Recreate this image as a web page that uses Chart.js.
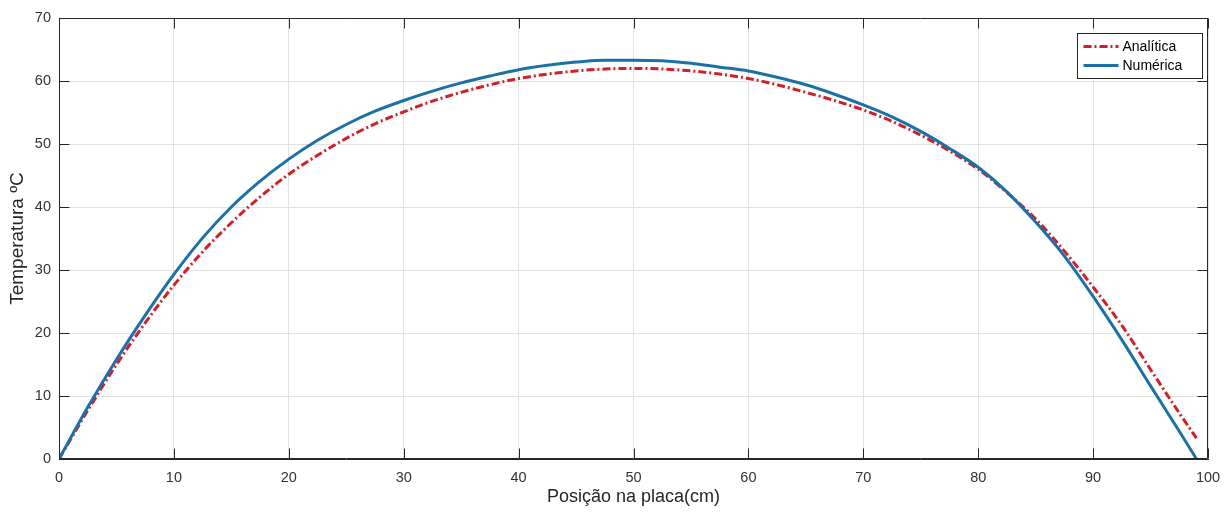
<!DOCTYPE html>
<html lang="pt">
<head>
<meta charset="UTF-8">
<title>Temperatura na placa</title>
<style>
  html, body { margin: 0; padding: 0; background: #fff; }
  #wrap { width: 1225px; height: 513px; }
</style>
</head>
<body>
<div id="wrap"><canvas id="myChart"></canvas></div>
<script src="https://cdn.jsdelivr.net/npm/chart.js"></script>
<script>
// posição na placa (cm)
const v_pos = [0, 2.5, 5, 7.5, 10, 12.5, 15, 17.5, 20, 22.5, 25, 27.5, 30, 32.5, 35, 37.5, 40, 42.5, 45, 47.5,
               50, 52.5, 55, 57.5, 60, 62.5, 65, 67.5, 70, 72.5, 75, 77.5, 80, 82.5, 85, 87.5, 90, 92.5, 95, 97.5, 99];
// solução analítica (ºC)
const v_analitica = [0, 7.7, 15.0, 21.6, 27.6, 32.9, 37.5, 41.6, 45.2, 48.2, 50.9, 53.2, 55.1, 56.8, 58.2, 59.4, 60.4, 61.1, 61.6, 61.9,
                     62.0, 61.9, 61.6, 61.1, 60.4, 59.4, 58.2, 56.9, 55.4, 53.6, 51.4, 48.9, 46.0, 42.3, 38.1, 33.0, 27.3, 21.2, 14.2, 7.3, 3.3];
// solução numérica (ºC)
const v_numerica = [0, 8.2, 15.8, 22.8, 29.3, 35.1, 40.0, 44.1, 47.6, 50.6, 53.1, 55.2, 56.9, 58.4, 59.7, 60.8, 61.8, 62.5, 63.0, 63.3,
                    63.3, 63.2, 62.8, 62.2, 61.6, 60.6, 59.4, 57.9, 56.2, 54.3, 52.0, 49.3, 46.3, 42.4, 37.6, 32.2, 25.8, 18.9, 11.6, 4.4, 0];
const v_xTicks = [0, 10, 20, 30, 40, 50, 60, 70, 80, 90, 100];
const v_yTicks = [0, 10, 20, 30, 40, 50, 60, 70];

const v_axisColor = '#262626';
const v_font = 'Liberation Sans, Arial, sans-serif';

// caixa, marcas de escala para dentro e legenda (estilo matlab)
const boxPlugin = {
    id: 'boxPlugin',
    afterDraw(chart) {
        const ctx = chart.ctx;
        const a = chart.chartArea;
        const sx = chart.scales.x, sy = chart.scales.y;
        const L = Math.round(a.left) + 0.5, R = Math.round(a.right) - 0.5;
        const T = Math.round(a.top) + 0.5, B = Math.round(a.bottom) - 0.5;
        ctx.save();
        ctx.strokeStyle = v_axisColor;
        ctx.lineWidth = 1;
        ctx.beginPath();
        ctx.moveTo(L, T); ctx.lineTo(R, T); ctx.lineTo(R, B); ctx.lineTo(L, B); ctx.closePath();
        for (const v of v_xTicks) {
            const px = Math.round(sx.getPixelForValue(v)) + 0.5;
            ctx.moveTo(px, B); ctx.lineTo(px, B - 10);
            ctx.moveTo(px, T); ctx.lineTo(px, T + 10);
        }
        for (const v of v_yTicks) {
            const py = Math.round(sy.getPixelForValue(v)) + 0.5;
            ctx.moveTo(L, py); ctx.lineTo(L + 10, py);
            ctx.moveTo(R, py); ctx.lineTo(R - 10, py);
        }
        ctx.stroke();

        // legenda
        const x0 = Math.round(a.right) - 130.5, y0 = Math.round(a.top) + 15.5;
        const w = 125, h = 45;
        ctx.fillStyle = '#fff';
        ctx.fillRect(x0, y0, w, h);
        ctx.strokeStyle = v_axisColor;
        ctx.strokeRect(x0, y0, w, h);
        ctx.font = '14px ' + v_font;
        ctx.textBaseline = 'middle';
        ctx.textAlign = 'left';
        chart.data.datasets.forEach((ds, i) => {
            const yy = y0 + 13 + i * 19;
            ctx.beginPath();
            ctx.strokeStyle = ds.borderColor;
            ctx.lineWidth = ds.borderWidth;
            ctx.setLineDash(ds.borderDash || []);
            ctx.moveTo(x0 + 6, yy);
            ctx.lineTo(x0 + 41, yy);
            ctx.stroke();
            ctx.setLineDash([]);
            ctx.fillStyle = '#000';
            ctx.fillText(ds.label, x0 + 45, yy + 1);
        });
        ctx.restore();
    }
};

const ctx = document.getElementById('myChart');
new Chart(ctx, {
    type: 'line',
    data: {
        datasets: [{
            label: 'Analítica',
            data: v_pos.map((x, i) => ({ x: x, y: v_analitica[i] })),
            borderColor: '#d01f28',
            borderWidth: 3,
            borderDash: [8, 3, 2, 3],
            pointRadius: 0,
            cubicInterpolationMode: 'monotone',
            order: 1
        }, {
            label: 'Numérica',
            data: v_pos.map((x, i) => ({ x: x, y: v_numerica[i] })),
            borderColor: '#1b70a8',
            borderWidth: 3,
            pointRadius: 0,
            cubicInterpolationMode: 'monotone',
            order: 0
        }]
    },
    options: {
        responsive: true,
        maintainAspectRatio: false,
        animation: false,
        devicePixelRatio: 1,
        layout: { padding: { top: 18, right: 17, left: 0, bottom: 0 } },
        plugins: {
            legend: { display: false },
            tooltip: { enabled: false }
        },
        scales: {
            x: {
                type: 'linear',
                min: 0,
                max: 100,
                afterBuildTicks: s => { s.ticks = v_xTicks.map(v => ({ value: v })); },
                afterFit: s => { s.height = 54; s.paddingLeft = 0; s.paddingRight = 0; },
                grid: { color: '#e1e1e1', drawTicks: false },
                border: { display: true, color: v_axisColor },
                ticks: { color: '#333', padding: 10, font: { family: v_font, size: 14.5 }, maxRotation: 0 },
                title: {
                    display: true,
                    text: 'Posição na placa(cm)',
                    color: '#262626',
                    font: { family: v_font, size: 18 },
                    padding: { top: 0, bottom: 5 }
                }
            },
            y: {
                min: 0,
                max: 70,
                afterBuildTicks: s => { s.ticks = v_yTicks.map(v => ({ value: v })); },
                afterFit: s => { s.width = 59; s.paddingTop = 0; s.paddingBottom = 0; },
                grid: { color: '#e1e1e1', drawTicks: false },
                border: { display: true, color: v_axisColor },
                ticks: { color: '#333', padding: 8, font: { family: v_font, size: 14.5 } },
                title: {
                    display: true,
                    text: 'Temperatura ºC',
                    color: '#262626',
                    font: { family: v_font, size: 19 },
                    padding: { top: 6, bottom: 0 }
                }
            }
        }
    },
    plugins: [boxPlugin]
});
</script>
</body>
</html>
